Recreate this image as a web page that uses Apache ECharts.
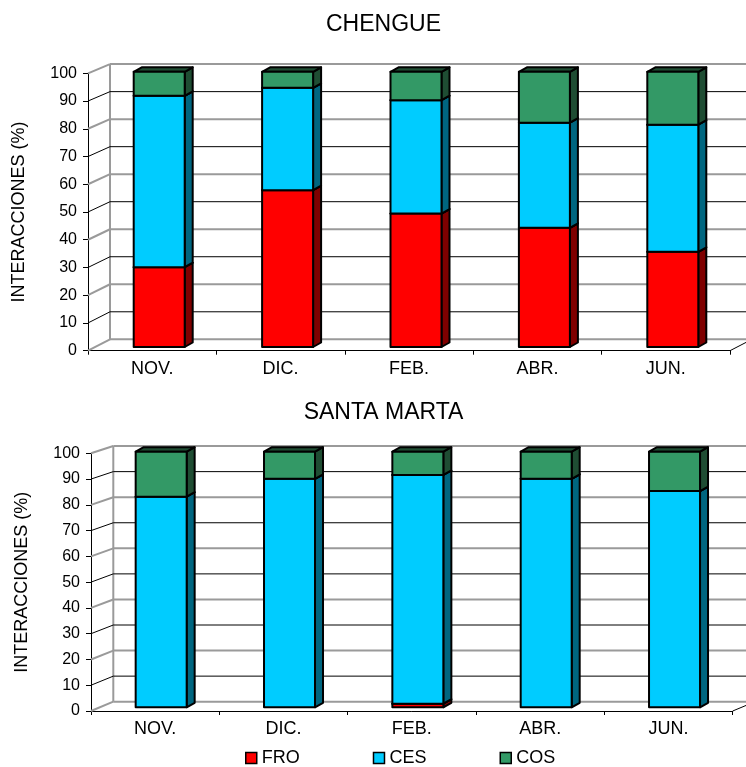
<!DOCTYPE html>
<html>
<head>
<meta charset="utf-8">
<title>Interacciones</title>
<script src="https://cdn.jsdelivr.net/npm/echarts@6/dist/echarts.min.js"></script>
<style>
  html, body { margin: 0; padding: 0; background: #fff; }
  #chart { width: 746px; height: 767px; }
</style>
</head>
<body>
<div id="chart"></div>
<script>
// Months sampled
const months = ['NOV.', 'DIC.', 'FEB.', 'ABR.', 'JUN.'];
// Value axis ticks (%)
const yTicks = [0, 10, 20, 30, 40, 50, 60, 70, 80, 90, 100];

// CHENGUE: share of interactions per type (%)
const chengueFRO = [29.0, 57.0, 48.5, 43.3, 34.6];
const chengueCES = [62.3, 37.2, 41.2, 38.2, 46.2];
const chengueCOS = [8.7, 5.8, 10.3, 18.5, 19.2];

// SANTA MARTA: share of interactions per type (%)
const santaMartaFRO = [0, 0, 1.4, 0, 0];
const santaMartaCES = [82.4, 89.4, 89.5, 89.4, 84.6];
const santaMartaCOS = [17.6, 10.6, 9.1, 10.6, 15.4];

const seriesNames = ['FRO', 'CES', 'COS'];
const frontColors = ['#ff0000', '#00ccff', '#339966'];
const sideColors  = ['#7f0000', '#006680', '#1f4d33'];

const FONT = '"Liberation Sans", Arial, sans-serif';

// Pseudo-3D geometry for each panel: bar plane and back wall offsets (px)
const panels = [
  {
    title: 'CHENGUE', titleY: 25,
    grid: { left: 88, top: 73.3, width: 642, height: 277.4 },
    bar: { dx: 7, dy: -3.7 }, back: { dx: 22, dy: -11.4 },
    k: 0.992,
    data: [chengueFRO, chengueCES, chengueCOS]
  },
  {
    title: 'SANTA MARTA', titleY: 412.5,
    grid: { left: 91, top: 453.3, width: 641.7, height: 257.7 },
    bar: { dx: 6, dy: -3.7 }, back: { dx: 22.3, dy: -9.3 },
    k: 0.992,
    data: [santaMartaFRO, santaMartaCES, santaMartaCOS]
  }
];

const BAR_W = 51;     // front face width
const SIDE_DX = 8;    // bar depth, horizontal
const SIDE_DY = -4.5; // bar depth, vertical

const grids = [], xAxes = [], yAxes = [], series = [], titles = [];

panels.forEach(function (p, gi) {
  grids.push(Object.assign({ containLabel: false }, p.grid));

  xAxes.push({
    type: 'category', gridIndex: gi, data: months, boundaryGap: true,
    axisLine: { lineStyle: { color: '#000', width: 1 } },
    axisTick: { show: true, length: 4, lineStyle: { color: '#000' } },
    axisLabel: { color: '#000', fontSize: 18, fontFamily: FONT, margin: 9 },
    splitLine: { show: false }
  });

  yAxes.push({
    type: 'value', gridIndex: gi, min: 0, max: 100, interval: 10,
    name: 'INTERACCIONES (%)', nameLocation: 'middle', nameGap: 60,
    nameTextStyle: { color: '#000', fontSize: 18, fontFamily: FONT },
    axisLine: { show: true, lineStyle: { color: '#000', width: 1 } },
    axisTick: { show: true, length: 5, lineStyle: { color: '#000' } },
    axisLabel: { color: '#000', fontSize: 16, fontFamily: FONT, margin: 11 },
    splitLine: { show: false }
  });

  // Back wall, left wall edges and floor
  series.push({
    type: 'custom', name: 'wall' + gi, xAxisIndex: gi, yAxisIndex: gi,
    silent: true, clip: false, z: 1,
    data: yTicks.map(function (v) { return [0, v]; }),
    encode: { x: 0, y: 1 },
    renderItem: function (params, api) {
      const cs = params.coordSys;
      const v = api.value(1);
      const y0 = api.coord([0, 0])[1];
      const backY = function (val) {
        return y0 + p.back.dy + (api.coord([0, val])[1] - y0) * p.k;
      };
      const yF = api.coord([0, v])[1];
      const yB = backY(v);
      const xF = cs.x, xB = cs.x + p.back.dx;
      const even = Math.round(v / 10) % 2 === 0;
      const st = even ? { stroke: '#9a9a9a', lineWidth: 2 } : { stroke: '#000', lineWidth: 1 };
      const children = [
        { type: 'line', shape: { x1: xF, y1: yF, x2: xB, y2: yB }, style: st },
        { type: 'line', shape: { x1: xB, y1: yB, x2: cs.x + cs.width + p.back.dx, y2: yB }, style: st }
      ];
      if (params.dataIndex === 0) {
        children.push({ type: 'line',
          shape: { x1: xB, y1: backY(0), x2: xB, y2: backY(100) },
          style: { stroke: '#9a9a9a', lineWidth: 2 } });
        children.push({ type: 'line',
          shape: { x1: cs.x + cs.width, y1: y0, x2: cs.x + cs.width + p.back.dx, y2: backY(0) },
          style: { stroke: '#000', lineWidth: 1 } });
      }
      return { type: 'group', children: children };
    }
  });

  // Stacked 3D bars, one custom series per interaction type
  const base = months.map(function () { return 0; });
  p.data.forEach(function (vals, si) {
    const items = vals.map(function (v, i) {
      const item = [i, base[i], base[i] + v];
      base[i] += v;
      return item;
    });
    series.push({
      type: 'custom', name: seriesNames[si], xAxisIndex: gi, yAxisIndex: gi,
      clip: false, z: 2 + si,
      itemStyle: { color: frontColors[si], borderColor: '#000', borderWidth: 1.5 },
      data: items,
      encode: { x: 0, y: [1, 2] },
      renderItem: function (params, api) {
        const i = api.value(0), b = api.value(1), t = api.value(2);
        if (t - b <= 0) return { type: 'group', children: [] };
        const c0 = api.coord([i, 0]);
        const y0 = c0[1];
        const yb = y0 + p.bar.dy + (api.coord([i, b])[1] - y0) * p.k;
        const yt = y0 + p.bar.dy + (api.coord([i, t])[1] - y0) * p.k;
        const x0 = c0[0] + p.bar.dx - BAR_W / 2;
        const x1 = x0 + BAR_W;
        const edge = { stroke: '#000', lineWidth: 2, lineJoin: 'round' };
        return {
          type: 'group',
          children: [
            { type: 'polygon',
              shape: { points: [[x1, yb], [x1 + SIDE_DX, yb + SIDE_DY], [x1 + SIDE_DX, yt + SIDE_DY], [x1, yt]] },
              style: Object.assign({ fill: sideColors[si] }, edge) },
            { type: 'polygon',
              shape: { points: [[x0, yt], [x1, yt], [x1 + SIDE_DX, yt + SIDE_DY], [x0 + SIDE_DX, yt + SIDE_DY]] },
              style: Object.assign({ fill: sideColors[si] }, edge) },
            { type: 'rect',
              shape: { x: x0, y: yt, width: BAR_W, height: yb - yt },
              style: Object.assign({ fill: frontColors[si] }, edge) }
          ]
        };
      }
    });
  });

  titles.push({
    type: 'text', silent: true, x: 383.5, y: p.titleY,
    style: { text: p.title, fill: '#000', font: '23px ' + FONT, textAlign: 'center', textVerticalAlign: 'middle' }
  });
});

const chart = echarts.init(document.getElementById('chart'), null, { renderer: 'canvas' });
chart.setOption({
  animation: false,
  backgroundColor: '#fff',
  grid: grids,
  xAxis: xAxes,
  yAxis: yAxes,
  series: series,
  graphic: titles,
  legend: {
    data: seriesNames.map(function (n, i) {
      return { name: n, icon: 'rect',
        itemStyle: { color: frontColors[i], borderColor: '#000', borderWidth: 1.5 } };
    }),
    left: 240, top: 744, padding: 5,
    itemWidth: 11, itemHeight: 11, itemGap: 73,
    textStyle: { color: '#000', fontSize: 18, fontFamily: FONT },
    selectedMode: false
  }
});
</script>
</body>
</html>
